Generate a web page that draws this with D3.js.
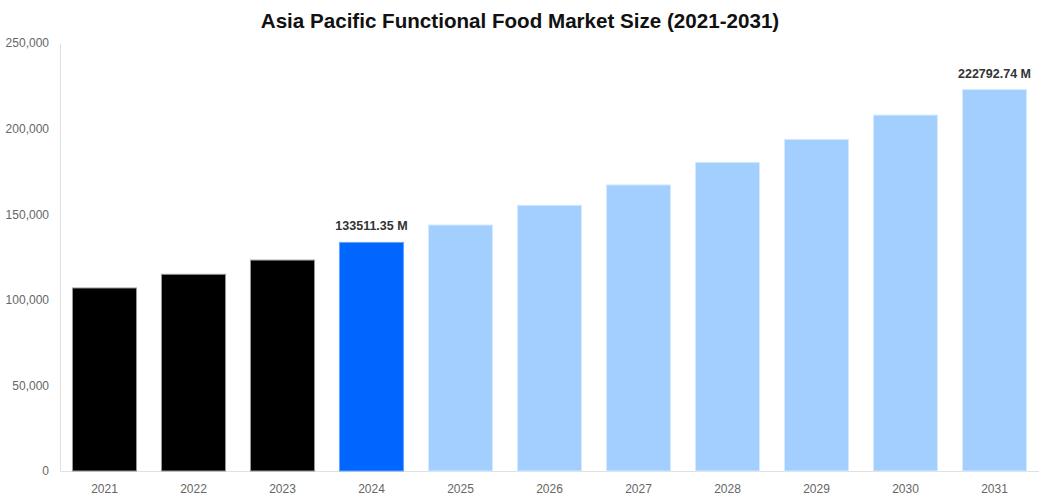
<!DOCTYPE html>
<html>
<head>
<meta charset="utf-8">
<script src="https://cdn.jsdelivr.net/npm/d3@7"></script>
<style>
  body { margin: 0; background: #fff; }
  text { font-family: "Liberation Sans", Arial, sans-serif; }
</style>
</head>
<body>
<svg id="chart" width="1039" height="500"></svg>
<script>
// data
const years = ["2021", "2022", "2023", "2024", "2025", "2026", "2027", "2028", "2029", "2030", "2031"];
const values = [106900, 114900, 123200, 133511.35, 143700, 155200, 167100, 180300, 193700, 207900, 222792.74];
const kinds = ["past", "past", "past", "current", "forecast", "forecast", "forecast", "forecast", "forecast", "forecast", "forecast"];
const labels = ["", "", "", "133511.35 M", "", "", "", "", "", "", "222792.74 M"];
const yTicks = [0, 50000, 100000, 150000, 200000, 250000];

const dataSet = years.map((y, i) => ({ year: y, value: values[i], kind: kinds[i], label: labels[i] }));

const fillColor = { past: "#000000", current: "#0066ff", forecast: "#a3cfff" };
const strokeColor = { past: "#999999", current: "#66a3ff", forecast: "#d6eaff" };

const margin = { top: 43, right: 0, bottom: 29, left: 60 };
const width = 1039 - margin.left - margin.right;
const height = 500 - margin.top - margin.bottom;

const svg = d3.select("#chart");

// titel
svg.append("text")
  .attr("x", 520)
  .attr("y", 28)
  .attr("text-anchor", "middle")
  .attr("font-size", 20.6)
  .attr("font-weight", "bold")
  .attr("fill", "#111")
  .text("Asia Pacific Functional Food Market Size (2021-2031)");

const g = svg.append("g").attr("transform", "translate(" + margin.left + "," + margin.top + ")");

const x = d3.scaleBand()
  .domain(years)
  .range([0, width])
  .paddingInner(0.28)
  .paddingOuter(0.14);

const y = d3.scaleLinear().domain([0, 250000]).range([height, 0]);

// y-as
const yAxis = g.append("g")
  .call(d3.axisLeft(y).tickValues(yTicks).tickSize(0).tickPadding(11).tickFormat(d3.format(",")));
yAxis.select(".domain").attr("stroke", "#e0e0e0");
yAxis.selectAll("text").attr("fill", "#666").attr("font-size", 12).attr("font-family", "Liberation Sans, Arial, sans-serif");

// x-as
const xAxis = g.append("g")
  .attr("transform", "translate(0," + height + ")")
  .call(d3.axisBottom(x).tickSize(0).tickPadding(13));
xAxis.select(".domain").attr("stroke", "#e0e0e0");
xAxis.selectAll("text").attr("fill", "#666").attr("font-size", 12).attr("font-family", "Liberation Sans, Arial, sans-serif");

// bars
const bars = g.selectAll(".bar").data(dataSet).join("g").attr("class", "bar");

bars.append("rect")
  .attr("x", (d) => x(d.year))
  .attr("y", (d) => y(d.value))
  .attr("width", x.bandwidth())
  .attr("height", (d) => height - y(d.value))
  .attr("fill", (d) => fillColor[d.kind])
  .attr("stroke", (d) => strokeColor[d.kind])
  .attr("stroke-width", 1);

// labels boven 2024 en 2031
bars.filter((d) => d.label !== "")
  .append("text")
  .attr("x", (d) => x(d.year) + x.bandwidth() / 2)
  .attr("y", (d) => y(d.value) - 12)
  .attr("text-anchor", "middle")
  .attr("font-size", 12.5)
  .attr("font-weight", "bold")
  .attr("fill", "#333")
  .text((d) => d.label);
</script>
</body>
</html>
